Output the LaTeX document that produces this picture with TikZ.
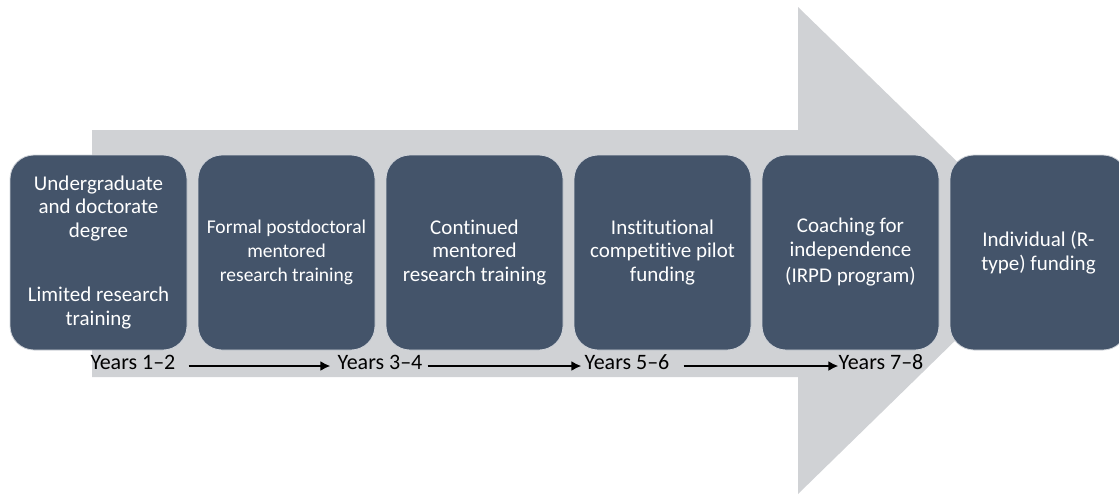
\documentclass[tikz,border=0pt]{standalone}
\usepackage{fontspec}
\setmainfont{Carlito}[Ligatures=NoCommon]
\usetikzlibrary{arrows.meta,positioning}
\definecolor{slate}{HTML}{44546A}
\definecolor{track}{HTML}{D0D2D5}

\begin{document}
\begin{tikzpicture}[x=1pt,y=-1pt,node distance=188pt,on grid,
  stage/.style={draw=white!75!slate,line width=0.8pt,fill=slate,rounded corners=24pt,
    minimum width=177pt,minimum height=195pt,inner sep=0pt,text=white,align=center,
    font=\fontsize{21}{23.5}\selectfont},
  yrs/.style={inner sep=0pt,font=\fontsize{22}{26}\selectfont}]
  \useasboundingbox (0,0) rectangle (1119,496);

  % the big grey arrow behind
  \fill[track] (92,130) -- (798,130) -- (798,7) -- (1048,250) -- (798,494)
     -- (798,377) -- (92,377) -- cycle;

  \node[stage]  (b1) at (98.5,252.5) {Undergraduate\\and doctorate\\degree\\[41pt]Limited research\\training};
  \node[stage,font=\fontsize{19.5}{24}\selectfont]  (b2) [right=of b1] {Formal postdoctoral\\mentored\\research training};
  \node[stage]  (b3) [right=of b2] {Continued\\mentored\\research training};
  \node[stage]  (b4) [right=of b3] {Institutional\\competitive pilot\\funding};
  \node[stage]  (b5) [right=of b4] {Coaching for\\independence\\[3pt](IRPD program)};
  \node[stage]  (b6) [right=of b5] {Individual (R-\\type) funding};

  \node[yrs]    (y1) at (133,362) {Years 1--2};
  \node[yrs]    (y2) [right=247pt of y1] {Years 3--4};
  \node[yrs]    (y3) [right=247pt of y2] {Years 5--6};
  \node[yrs]    (y4) [right=254pt of y3] {Years 7--8};

 \path[-{Latex[length=10pt,width=10pt]},line width=2.6pt]
    ([yshift=-4pt]y1.east) edge [shorten <=13pt,shorten >=7pt] ([yshift=-4pt]y2.west)
    ([yshift=-4pt]y2.east) edge [shorten <=5pt,shorten >=3pt]  ([yshift=-4pt]y3.west)
    ([yshift=-4pt]y3.east) edge [shorten <=14pt]               ([yshift=-4pt]y4.west)
  ;
\end{tikzpicture}
\end{document}
